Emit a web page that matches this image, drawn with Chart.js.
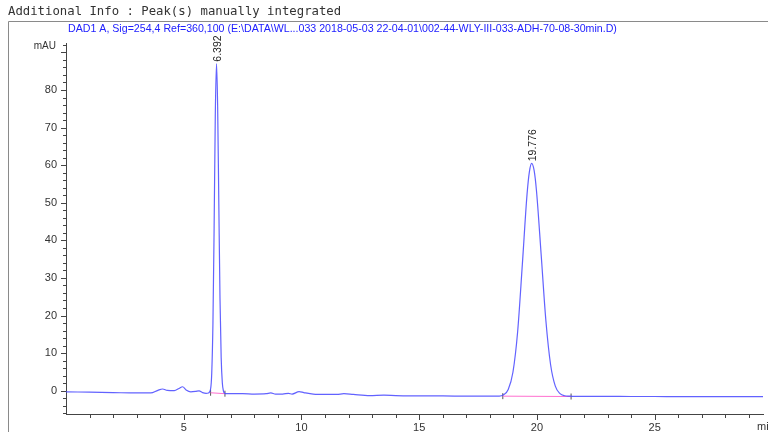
<!DOCTYPE html>
<html>
<head>
<meta charset="utf-8">
<script src="https://cdn.jsdelivr.net/npm/chart.js@4"></script>
<style>
  html, body { margin: 0; padding: 0; background: #fff; }
  canvas { display: block; }
</style>
</head>
<body>
<canvas id="chrom" width="768" height="432"></canvas>
<script>
// retention time (min) and detector signal (mAU)
const times = [0, 1, 2, 3, 3.6, 3.9, 4.1, 4.3, 4.6, 4.8, 4.95, 5.1, 5.3, 5.5, 5.65, 5.8, 5.95, 6.05,
  6.14, 6.19, 6.24, 6.29, 6.34, 6.392, 6.44, 6.49, 6.54, 6.59, 6.64, 6.69, 6.74, 6.8,
  7.0, 7.5, 8.0, 8.5, 8.7, 8.9, 9.2, 9.45, 9.6, 9.9, 10.1, 10.5, 11, 11.5, 11.8, 12.2, 12.9,
  13.5, 14, 15, 16, 17, 18, 18.4,
  18.58, 18.78, 18.98, 19.18, 19.38, 19.58, 19.68, 19.776, 19.88, 19.98, 20.18, 20.38, 20.58,
  20.78, 20.98, 21.18, 21.38, 21.6,
  22, 23, 24, 25, 26, 27, 28, 29, 29.6];
const signal = [-0.3, -0.4, -0.5, -0.6, -0.6, 0.1, 0.45, 0.1, 0.0, 0.6, 1.05, 0.2, -0.3, -0.2, -0.05, -0.5, -0.7, -0.6,
  0.45, 4.8, 17.8, 43.2, 73.1, 87, 75.7, 49.7, 24.5, 8.8, 2.0, -0.15, -0.7, -0.8,
  -0.8, -0.8, -0.9, -0.8, -0.6, -0.9, -0.9, -0.7, -0.9, -0.25, -0.5, -0.9, -1.0, -1.0, -0.8, -1.0, -1.3,
  -1.2, -1.3, -1.4, -1.4, -1.45, -1.45, -1.45,
  -1.1, 0.3, 4.9, 15.7, 33.6, 52.3, 58.3, 60.5, 58.6, 53.2, 36.1, 18.6, 6.9,
  1.2, -0.8, -1.35, -1.45, -1.5,
  -1.5, -1.5, -1.55, -1.55, -1.6, -1.6, -1.6, -1.6, -1.6];

// integrated peaks
const peakTimes = [6.392, 19.776];
const peakHeights = [87, 60.5];
const peakLabels = ["6.392", "19.776"];
const peakStart = [[6.14, -0.55], [18.55, -1.45]];
const peakEnd = [[6.75, -0.8], [21.45, -1.55]];

const yTicks = [0, 10, 20, 30, 40, 50, 60, 70, 80];
const xTicks = [5, 10, 15, 20, 25];

const titleText = "Additional Info : Peak(s) manually integrated";
const headerText = "DAD1 A, Sig=254,4 Ref=360,100 (E:\\DATA\\WL...033 2018-05-03 22-04-01\\002-44-WLY-III-033-ADH-70-08-30min.D)";

const trace = times.map((t, i) => ({ x: t, y: signal[i] }));

const baselineSets = peakStart.map((s, i) => ({
  data: [{ x: s[0], y: s[1] }, { x: peakEnd[i][0], y: peakEnd[i][1] }],
  borderColor: "#ff70d0",
  borderWidth: 1,
  pointRadius: 0,
  fill: false
}));

const markers = {
  data: peakStart.concat(peakEnd).map(p => ({ x: p[0], y: p[1] })),
  showLine: false,
  pointStyle: "line",
  rotation: 90,
  pointRadius: 3,
  borderColor: "#555",
  borderWidth: 1
};

const decor = {
  id: "decor",
  beforeDraw(chart) {
    const c = chart.ctx;
    c.save();
    c.fillStyle = "#fff";
    c.fillRect(0, 0, chart.width, chart.height);
    c.fillStyle = "#333";
    c.font = "12.3px 'DejaVu Sans Mono'";
    c.textBaseline = "middle";
    c.fillText(titleText, 8, 12);
    c.strokeStyle = "#8a8a8a";
    c.lineWidth = 1;
    c.beginPath();
    c.moveTo(8.5, 432);
    c.lineTo(8.5, 21.5);
    c.lineTo(768, 21.5);
    c.stroke();
    c.fillStyle = "#2020ff";
    c.font = "11px 'Liberation Sans'";
    const w = c.measureText(headerText).width;
    c.font = (11 * 549 / w).toFixed(2) + "px 'Liberation Sans'";
    c.fillText(headerText, 68, 29);
    c.restore();
  },
  afterDraw(chart) {
    const c = chart.ctx;
    const xs = chart.scales.x, ys = chart.scales.y;
    const a = chart.chartArea;
    c.save();
    c.strokeStyle = "#444";
    c.lineWidth = 1;
    c.beginPath();
    for (let v = -6; v <= 92; v += 2) {
      const y = Math.round(ys.getPixelForValue(v)) + 0.5;
      const len = v % 10 === 0 ? 5 : 3;
      c.moveTo(a.left, y);
      c.lineTo(a.left - len, y);
    }
    for (let v = 1; v <= 29; v += 1) {
      const x = Math.round(xs.getPixelForValue(v)) + 0.5;
      const len = v % 5 === 0 ? 6 : 4;
      c.moveTo(x, a.bottom);
      c.lineTo(x, a.bottom + len);
    }
    c.stroke();
    c.fillStyle = "#333";
    c.font = "10px 'Liberation Sans'";
    c.textAlign = "right";
    c.textBaseline = "middle";
    c.fillText("mAU", 56, a.top + 3);
    c.textAlign = "left";
    c.font = "11px 'Liberation Sans'";
    c.fillText("min", 757, 427);
    c.fillStyle = "#222";
    c.font = "10.5px 'Liberation Sans'";
    peakTimes.forEach((t, i) => {
      const x = xs.getPixelForValue(t);
      const y = ys.getPixelForValue(peakHeights[i]) - 2;
      c.save();
      c.translate(x + 4, y);
      c.rotate(-Math.PI / 2);
      c.textAlign = "left";
      c.textBaseline = "alphabetic";
      c.fillText(peakLabels[i], 0, 0);
      c.restore();
    });
    c.restore();
  }
};

new Chart(document.getElementById("chrom"), {
  type: "line",
  data: {
    datasets: [{
      data: trace,
      borderColor: "rgba(70, 70, 255, 0.85)",
      borderWidth: 1.2,
      pointRadius: 0,
      cubicInterpolationMode: "monotone",
      fill: false
    }].concat(baselineSets, [markers])
  },
  options: {
    responsive: false,
    animation: false,
    devicePixelRatio: 1,
    layout: { padding: { top: 43, right: 0, left: 0, bottom: 0 } },
    plugins: { legend: { display: false }, tooltip: { enabled: false } },
    scales: {
      x: {
        type: "linear",
        min: 0,
        max: 29.6,
        grid: { display: false, drawTicks: false },
        border: { display: true, color: "#444", width: 1 },
        afterBuildTicks: s => { s.ticks = xTicks.map(v => ({ value: v })); },
        afterFit: s => { s.height = 18; },
        ticks: {
          padding: 7,
          color: "#333",
          font: { family: "Liberation Sans", size: 11 },
          maxRotation: 0
        }
      },
      y: {
        min: -6.2,
        max: 92.5,
        grid: { display: false, drawTicks: false },
        border: { display: true, color: "#444", width: 1 },
        afterBuildTicks: s => { s.ticks = yTicks.map(v => ({ value: v })); },
        afterFit: s => { s.width = 66; },
        ticks: {
          padding: 9,
          color: "#333",
          font: { family: "Liberation Sans", size: 11 }
        }
      }
    }
  },
  plugins: [decor]
});
</script>
</body>
</html>
